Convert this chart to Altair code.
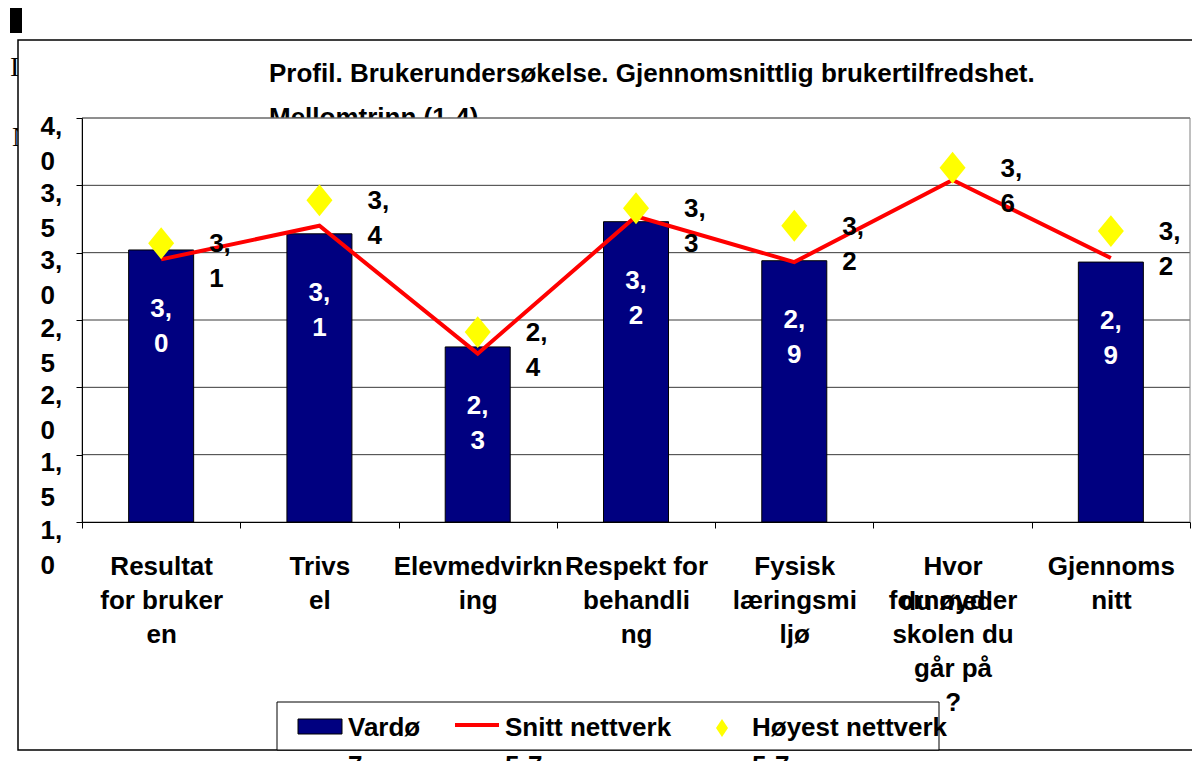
import json
import altair as alt
import pandas as pd

# ---------------- data ----------------
categories = [
    "Resultat for brukeren",
    "Trivsel",
    "Elevmedvirkning",
    "Respekt for behandling",
    "Fysisk læringsmiljø",
    "Hvor fornøyd er du med skolen du går på?",
    "Gjennomsnitt",
]
x_label_lines = [
    ["Resultat", "for bruker", "en"],
    ["Trivs", "el"],
    ["Elevmedvirkn", "ing"],
    ["Respekt for", "behandli", "ng"],
    ["Fysisk", "læringsmi", "ljø"],
    ["Hvor", "fornøyd er", "skolen du", "går på", "?"],
    ["Gjennoms", "nitt"],
]
overlay_cat = ["Hvor fornøyd er du med skolen du går på?"]
overlay_text = ["du med"]

vardo = [3.02, 3.14, 2.30, 3.23, 2.94, None, 2.93]      # Vardø 7 (bars)
snitt = [2.95, 3.20, 2.25, 3.27, 2.93, 3.54, 2.96]      # Snitt nettverk 5-7 (line)
hoyest = [3.07, 3.39, 2.41, 3.33, 3.20, 3.63, 3.16]     # Høyest nettverk 5-7 (diamonds)
y_ticks = [1.0, 1.5, 2.0, 2.5, 3.0, 3.5, 4.0]
series_lines = [["Vardø", "7"], ["Snitt nettverk", "5-7"], ["Høyest nettverk", "5-7"]]
title_lines = ["Profil. Brukerundersøkelse. Gjennomsnittlig brukertilfredshet.",
               "Mellomtrinn  (1-4)"]

# ---------------- styling ----------------
W, H = 1108, 404
FONT = "Liberation Sans"
FS = 26
NAVY, RED, YELLOW = "#000080", "#FF0000", "#FFFF00"
DIAMOND = "M0,-1.23L1,0L0,1.23L-1,0Z"
DIAMOND_LEG = "M0,-1.5L1,0L0,1.5L-1,0Z"

df = pd.DataFrame({"cat": categories, "vardo": vardo, "snitt": snitt, "hoyest": hoyest})

x_expr = " : ".join(
    f"datum.value == {json.dumps(c)} ? {json.dumps(l, ensure_ascii=False)}"
    for c, l in zip(categories, x_label_lines)
) + " : datum.label"

xscale = alt.Scale(domain=categories, paddingInner=0, paddingOuter=0)
yscale = alt.Scale(domain=[1, 4], nice=False, zero=False)

xaxis = alt.Axis(
    title=None, labelExpr=x_expr, labelFont=FONT, labelFontSize=FS,
    labelFontWeight="bold", labelColor="black", labelLineHeight=34,
    labelAngle=0, labelAlign="center", labelBaseline="top", labelPadding=25,
    labelOverlap=False, labelLimit=0, labelFlush=False, tickBand="extent",
    ticks=True, tickSize=6, tickColor="black", domainColor="black",
    domainWidth=1, grid=False, zindex=2,
)
yaxis = alt.Axis(
    title=None, values=y_ticks,
    labelExpr="[substring(format(datum.value,'.1f'),0,1)+',', substring(format(datum.value,'.1f'),2,3)]",
    labelFont=FONT, labelFontSize=FS, labelFontWeight="bold", labelColor="black",
    labelAlign="left", labelBaseline="top", labelPadding=36, labelOffset=-5,
    labelLineHeight=35, labelOverlap=False, labelLimit=0, labelFlush=False,
    ticks=True, tickSize=6, tickColor="black", domainColor="black", grid=False,
    zindex=2,
)

x_enc = alt.X("cat:N", scale=xscale, axis=xaxis)

def yenc(field):
    return alt.Y(f"{field}:Q", scale=yscale, axis=yaxis)

deco = alt.Chart(pd.DataFrame({"d": [0]}))

def box(x1, x2, y1, y2, **kw):
    return deco.mark_rect(**kw).encode(
        x=alt.value(x1), x2=alt.value(x2), y=alt.value(y1), y2=alt.value(y2))

def label(x, y, text, **kw):
    opts = dict(font=FONT, fontSize=FS, fontWeight="bold", color="black",
                align="left", baseline="top")
    opts.update(kw)
    return deco.mark_text(**opts).encode(x=alt.value(x), y=alt.value(y), text=alt.value(text))

# page artefacts
black_bar = box(-72, -60, -110, -85, color="black")
letters1 = label(-72, -64, "In", font="Liberation Serif", fontWeight="normal", fontSize=28)
letters2 = label(-70, 6, "Ne", font="Liberation Serif", fontWeight="normal", fontSize=28)

chart_box = box(-64, 1130, -78, 632, fill="white", stroke="black", strokeWidth=1.5)
title = label(187, -57, title_lines, lineHeight=44)
plot_bg = box(0, W, 0, H, fill="white")

grid = alt.Chart(pd.DataFrame({"v": y_ticks[1:]})).mark_rule(
    color="#3a3a3a", strokeWidth=1).encode(
    y=alt.Y("v:Q", scale=yscale, axis=yaxis), x=alt.value(0), x2=alt.value(W))
plot_border = box(0, W, 0, H, fill="white", fillOpacity=0, stroke="#808080", strokeWidth=1)

bars = alt.Chart(df).transform_filter("isValid(datum.vardo)").mark_bar(
    width=65, color=NAVY, stroke="black", strokeWidth=1).encode(
    x=x_enc, y=yenc("vardo"), y2=alt.datum(1))

bar_labels = alt.Chart(df).transform_filter("isValid(datum.vardo)").transform_calculate(
    lbl="substring(format(datum.vardo,'.1f'),0,1) + ',|' + substring(format(datum.vardo,'.1f'),2,3)"
).mark_text(font=FONT, fontSize=FS, fontWeight="bold", color="white", align="center",
            baseline="top", dy=46, lineBreak="|", lineHeight=35).encode(
    x=x_enc, y=yenc("vardo"), text="lbl:N")

line = alt.Chart(df).mark_line(color=RED, strokeWidth=4).encode(x=x_enc, y=yenc("snitt"))

diamonds = alt.Chart(df).mark_point(shape=DIAMOND, size=676, filled=True, color=YELLOW,
                                     opacity=1, strokeWidth=0).encode(x=x_enc, y=yenc("hoyest"))

diamond_labels = alt.Chart(df).transform_calculate(
    lbl="substring(format(datum.hoyest,'.1f'),0,1) + ',|' + substring(format(datum.hoyest,'.1f'),2,3)"
).mark_text(font=FONT, fontSize=FS, fontWeight="bold", color="black", align="left",
            baseline="top", dx=48, dy=-12, lineBreak="|", lineHeight=35).encode(
    x=x_enc, y=yenc("hoyest"), text="lbl:N")

overlay = alt.Chart(pd.DataFrame({"cat": overlay_cat, "t": overlay_text})).mark_text(
    font=FONT, fontSize=FS, fontWeight="bold", color="black", align="center",
    baseline="top", dx=-6).encode(x=x_enc, y=alt.value(471), text="t:N")

# legend
leg_box = box(195, 857, 584, 632, fill="white", stroke="black", strokeWidth=1)
leg_sw = box(216, 260, 601, 616, fill=NAVY, stroke="black", strokeWidth=1)
leg_line = deco.mark_rule(color=RED, strokeWidth=4).encode(
    x=alt.value(373), x2=alt.value(417), y=alt.value(607))
leg_dia = deco.mark_point(shape=DIAMOND_LEG, size=144, filled=True, color=YELLOW,
                          opacity=1, strokeWidth=0).encode(x=alt.value(640), y=alt.value(610))
leg_t1 = label(266, 597, series_lines[0], lineHeight=38)
leg_t2 = label(423, 597, series_lines[1], lineHeight=38)
leg_t3 = label(670, 597, series_lines[2], lineHeight=38)

chart = alt.layer(
    black_bar, letters1, letters2, chart_box, title, plot_bg, grid, plot_border,
    bars, bar_labels, line, diamonds, diamond_labels,
    leg_box, leg_sw, leg_line, leg_dia, leg_t1, leg_t2, leg_t3, overlay,
).properties(
    width=W, height=H,
    padding={"left": 74, "top": 110, "right": 2, "bottom": 239},
    autosize=alt.AutoSizeParams(type="none"),
).configure_view(stroke=None).configure(background="white")

chart.save("out.html", embed_options={"renderer": "svg", "actions": False})
